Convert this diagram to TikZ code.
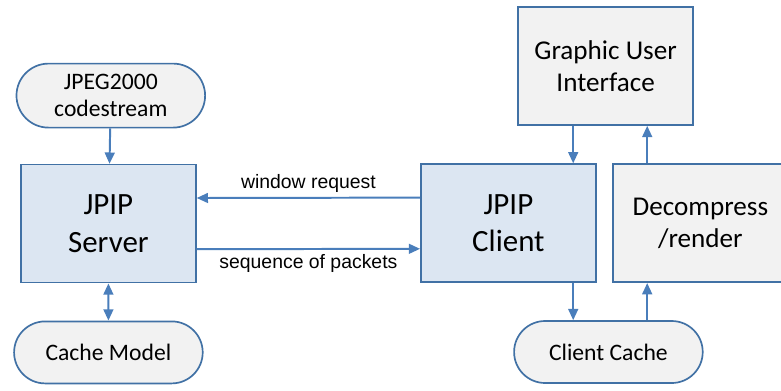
\documentclass[tikz,border=0pt]{standalone}
\usepackage{fontspec}
\setmainfont{Carlito}
\newfontfamily\labelfont{Liberation Sans}
\usetikzlibrary{shapes.misc, arrows.meta, positioning, calc}
\definecolor{boxblue}{RGB}{220, 230, 242}
\definecolor{boxgray}{RGB}{242, 242, 242}
\definecolor{lineblue}{RGB}{65, 113, 165}
\definecolor{arrowblue}{RGB}{74, 126, 187}
\tikzstyle{process} = [rectangle, minimum width=4.375cm, minimum height=2.95cm, text centered, align=center, draw=lineblue, line width=1.2pt, fill=boxblue, font=\fontsize{22}{26.5}\selectfont]
\tikzstyle{module} = [rectangle, minimum width=4.375cm, minimum height=2.95cm, text centered, align=center, draw=lineblue, line width=1.2pt, fill=boxgray, font=\fontsize{19.3}{22.8}\selectfont]
\tikzstyle{store} = [rounded rectangle, minimum width=4.95cm, minimum height=1.55cm, text centered, align=center, draw=lineblue, line width=1.2pt, fill=boxgray, font=\fontsize{16.8}{19.5}\selectfont]
\tikzstyle{arrow} = [line width=1.4pt, draw=arrowblue, -{Triangle[length=8pt,width=7pt]}]
\tikzstyle{both} = [line width=1.4pt, draw=arrowblue, {Triangle[length=8pt,width=7pt]}-{Triangle[length=8pt,width=7pt]}]
\tikzstyle{msg} = [font=\labelfont\fontsize{13.8}{16}\selectfont, text=black]

\begin{document}
\begin{tikzpicture}[node distance=3.2cm]
\useasboundingbox (0,0) rectangle (19.525,-9.75);
\clip (0,0) rectangle (19.525,-9.75);

% Server side
\node (server) [process] at (2.71,-5.59) {JPIP\\Server};
\node (codestream) [store, above of=server, xshift=0.06cm, minimum height=1.6cm] {JPEG2000\\codestream};
\node (cachemodel) [store, below of=server, yshift=-0.02cm] {Cache Model};

% Client side
\node (client) [process] at (12.71,-5.58) {JPIP\\Client};
\node (decompress) [module, right of=client, xshift=1.6cm] {Decompress\\/render};
\node (gui) [module, above of=client, xshift=2.43cm, yshift=0.73cm] {Graphic User\\Interface};
\node (clientcache) [store, below of=client, xshift=2.5cm, yshift=-0.02cm] {Client Cache};

% Arrow columns on the client side
\coordinate (down) at (14.33,0);
\coordinate (up) at (16.18,0);

% Arrows
\draw [arrow] (codestream) -- (server);
\draw [both] (server.south -| cachemodel) -- (cachemodel);
\draw [arrow] ([yshift=0.64cm]client.west) -- ([yshift=0.64cm]server.east) node [msg, midway, above] {window request};
\draw [arrow] ([yshift=-0.64cm]server.east) -- ([yshift=-0.64cm]client.west) node [msg, midway, below] {sequence of packets};
\draw [arrow] (gui.south -| down) -- (client.north -| down);
\draw [arrow] (client.south -| down) -- (clientcache.north -| down);
\draw [arrow] (clientcache.north -| up) -- (decompress.south -| up);
\draw [arrow] (decompress.north -| up) -- (gui.south -| up);

\end{tikzpicture}
\end{document}
